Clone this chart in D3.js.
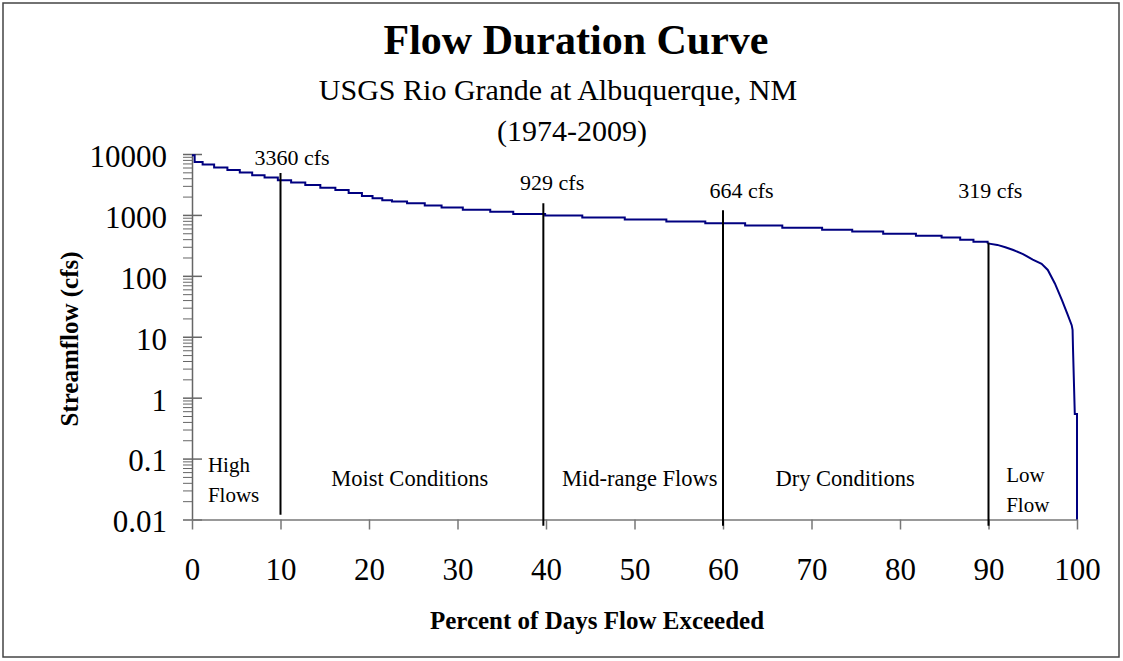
<!DOCTYPE html>
<html>
<head>
<meta charset="utf-8">
<script src="https://cdn.jsdelivr.net/npm/d3@7"></script>
<style>
body { margin: 0; background: #fff; }
text { font-family: "Liberation Serif", "Times New Roman", serif; fill: #000; }
</style>
</head>
<body>
<div id="chart"></div>
<script>
// stepped part of the duration curve: percent of days exceeded / streamflow (cfs)
let stepPct = [0, 0.3, 1.2, 2.5, 4.0, 5.4, 6.8, 8.2, 9.7, 11.2, 12.8, 14.5, 16.2, 17.7, 19.2, 20.4,
  21.5, 22.6, 24.3, 26.3, 28.2, 30.6, 33.7, 36.3, 39.9, 44.1, 48.9, 53.6, 58.0, 62.5, 66.7, 71.2,
  74.6, 78.1, 81.8, 84.7, 86.8, 88.3, 89.9];
let stepFlow = [9500, 7400, 6700, 6000, 5450, 4950, 4500, 4100, 3720, 3400, 3090, 2800, 2560, 2300, 2040, 1880,
  1740, 1660, 1560, 1430, 1320, 1210, 1130, 1040, 975, 906, 840, 777, 729, 668, 618, 572,
  532, 493, 457, 424, 393, 363, 341];

// steep low flow tail
let tailPct = [89.9, 91.0, 91.9, 92.8, 93.9, 95.0, 96.0, 96.7, 97.5, 98.3, 98.9, 99.4, 99.5, 99.55, 99.75, 100, 100];
let tailFlow = [341, 322, 295, 265, 228, 185, 158, 125, 75, 40, 24, 15.5, 13, 6.3, 0.54, 0.54, 0.01];

let yTicks = [0.01, 0.1, 1, 10, 100, 1000, 10000];
let yTickLabels = ["0.01", "0.1", "1", "10", "100", "1000", "10000"];
let xTicks = [0, 10, 20, 30, 40, 50, 60, 70, 80, 90, 100];

// vertical marker lines and their flow labels
let markerPct = [10, 39.7, 60, 90];
let markerTop = [4860, 1556, 1194, 350];
let markerBottom = [0.012, 0.0079, 0.0079, 0.0079];
let markerLabels = ["3360 cfs", "929 cfs", "664 cfs", "319 cfs"];
let markerLabelPct = [11.3, 40.7, 62.1, 90.2];
let markerLabelFlow = [6600, 2560, 1890, 1890];

// flow regime labels
let regionLabels = [["High", "Flows"], ["Moist Conditions"], ["Mid-range Flows"], ["Dry Conditions"], ["Low", "Flow"]];
let regionPct = [1.8, 24.6, 50.6, 73.8, 92.0];
let regionFlow = [0.06, 0.0353, 0.0353, 0.0353, 0.0406];
let regionAnchor = ["start", "middle", "middle", "middle", "start"];

let width = 1123, height = 661;

let svg = d3.select("#chart")
  .append("svg")
  .attr("width", width)
  .attr("height", height);

svg.append("rect")
  .attr("x", 3).attr("y", 3)
  .attr("width", 1116).attr("height", 654)
  .attr("fill", "#fff")
  .attr("stroke", "#444")
  .attr("stroke-width", 1.5);

let x = d3.scaleLinear().domain([0, 100]).range([192, 1077]);
let y = d3.scaleLog().domain([0.01, 10000]).range([519.5, 154]);

// titles
svg.append("text")
  .attr("x", 576).attr("y", 54)
  .attr("text-anchor", "middle")
  .style("font-size", "42px").style("font-weight", "bold")
  .text("Flow Duration Curve");

svg.append("text")
  .attr("x", 558).attr("y", 100)
  .attr("text-anchor", "middle")
  .style("font-size", "30px")
  .text("USGS Rio Grande at Albuquerque, NM");

svg.append("text")
  .attr("x", 572).attr("y", 141)
  .attr("text-anchor", "middle")
  .style("font-size", "30px")
  .text("(1974-2009)");

// minor log ticks
let minor = [];
for (let e = -2; e < 4; e++) {
  for (let m = 2; m <= 9; m++) minor.push(m * Math.pow(10, e));
}

svg.append("g")
  .attr("transform", "translate(192,0)")
  .call(d3.axisLeft(y).tickValues(minor).tickSize(9).tickFormat(""))
  .call(g => g.select(".domain").remove())
  .selectAll("line").attr("stroke", "#666");

let yAxis = svg.append("g")
  .attr("transform", "translate(192,0)")
  .call(d3.axisLeft(y).tickValues(yTicks).tickSizeInner(9).tickSizeOuter(0).tickPadding(16)
    .tickFormat((d, i) => yTickLabels[i]));
yAxis.select(".domain").attr("stroke", "#666").attr("stroke-width", 1.5);
yAxis.selectAll(".tick line").attr("x2", 10).attr("x1", -9).attr("stroke", "#666").attr("stroke-width", 1.5);
yAxis.selectAll("text")
  .attr("dy", "0.4em")
  .style("font-size", "31px")
  .style("font-family", "'Liberation Serif', 'Times New Roman', serif");

let xAxis = svg.append("g")
  .attr("transform", "translate(0,519.5)")
  .call(d3.axisBottom(x).tickValues(xTicks).tickSizeInner(10).tickSizeOuter(0));
xAxis.select(".domain").attr("stroke", "#777").attr("stroke-width", 1.5);
xAxis.selectAll(".tick line").attr("stroke", "#777").attr("stroke-width", 1.5);
xAxis.selectAll("text")
  .attr("y", 60).attr("dy", null)
  .style("font-size", "31px")
  .style("font-family", "'Liberation Serif', 'Times New Roman', serif");

// axis titles
svg.append("text")
  .attr("x", 597).attr("y", 629)
  .attr("text-anchor", "middle")
  .style("font-size", "25px").style("font-weight", "bold")
  .text("Percent of Days Flow Exceeded");

svg.append("text")
  .attr("transform", "translate(78,339) rotate(-90)")
  .attr("text-anchor", "middle")
  .style("font-size", "25px").style("font-weight", "bold")
  .text("Streamflow (cfs)");

// curve
let stepData = stepPct.map((p, i) => [p, stepFlow[i]]);
let tailData = tailPct.map((p, i) => [p, tailFlow[i]]);

let stepLine = d3.line()
  .x(d => x(d[0]))
  .y(d => y(d[1]))
  .curve(d3.curveStepAfter);

let tailLine = d3.line()
  .x(d => x(d[0]))
  .y(d => y(d[1]));

svg.append("path")
  .datum(stepData)
  .attr("d", stepLine)
  .attr("fill", "none")
  .attr("stroke", "#000080")
  .attr("stroke-width", 2);

svg.append("path")
  .datum(tailData)
  .attr("d", tailLine)
  .attr("fill", "none")
  .attr("stroke", "#000080")
  .attr("stroke-width", 2);

// marker lines
svg.selectAll(".marker")
  .data(markerPct)
  .enter().append("line")
  .attr("class", "marker")
  .attr("x1", d => x(d))
  .attr("x2", d => x(d))
  .attr("y1", (d, i) => y(markerTop[i]))
  .attr("y2", (d, i) => y(markerBottom[i]))
  .attr("stroke", "#000")
  .attr("stroke-width", 2);

svg.selectAll(".marker-label")
  .data(markerLabels)
  .enter().append("text")
  .attr("class", "marker-label")
  .attr("x", (d, i) => x(markerLabelPct[i]))
  .attr("y", (d, i) => y(markerLabelFlow[i]))
  .attr("text-anchor", "middle")
  .style("font-size", "22px")
  .text(d => d);

// regime labels
let region = svg.selectAll(".region")
  .data(regionLabels)
  .enter().append("text")
  .attr("class", "region")
  .attr("x", (d, i) => x(regionPct[i]))
  .attr("y", (d, i) => y(regionFlow[i]))
  .attr("text-anchor", (d, i) => regionAnchor[i])
  .style("font-size", (d, i) => regionAnchor[i] === "start" ? "21px" : "22.5px");

region.each(function (d, i) {
  let t = d3.select(this);
  d.forEach((s, j) => {
    t.append("tspan")
      .attr("x", x(regionPct[i]))
      .attr("dy", j === 0 ? 0 : 30)
      .text(s);
  });
});
</script>
</body>
</html>
